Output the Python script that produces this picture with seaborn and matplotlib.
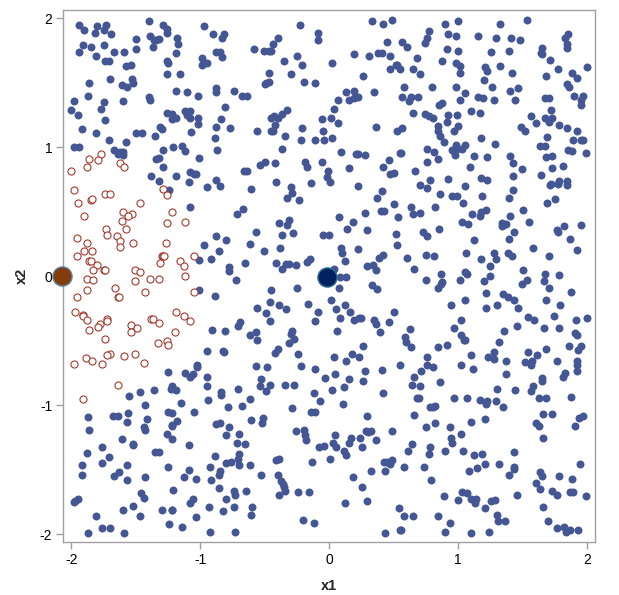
import pandas as pd
import seaborn as sns
import matplotlib
matplotlib.use("Agg")
import matplotlib.pyplot as plt

# (x1, x2), one list per region of the plot
red_points = [
    (-1.77,0.95),(-1.86,0.91),(-1.79,0.90),(-1.88,0.85),(-2.00,0.82),(-1.62,0.88),(-1.59,0.85),(-1.98,0.67),
    (-1.95,0.57),(-1.85,0.59),(-1.84,0.60),(-1.74,0.64),(-1.70,0.64),(-1.29,0.68),(-1.26,0.63),(-1.47,0.57),
    (-1.22,0.50),(-1.60,0.50),(-1.53,0.48),(-1.56,0.47),(-1.61,0.43),(-1.90,0.47),(-1.26,0.41),(-1.12,0.42),
    (-1.73,0.37),(-1.58,0.37),(-1.72,0.32),(-1.65,0.31),(-1.96,0.295),(-1.88,0.26),(-1.62,0.27),(-1.62,0.23),
    (-1.52,0.26),(-1.27,0.26),(-1.90,0.20),(-1.84,0.20),(-1.96,0.16),(-1.30,0.155),(-1.29,0.16),(-1.28,0.155),
    (-1.05,0.16),(-1.86,0.12),(-1.85,0.12),(-1.80,0.09),(-1.31,0.10),(-1.16,0.12),(-1.13,0.08),(-1.83,0.05),
    (-1.75,0.05),(-1.74,0.05),(-1.51,0.05),(-1.47,0.03),(-1.12,0.0),(-1.88,-0.02),(-1.83,-0.03),(-1.51,-0.04),
    (-1.39,-0.02),(-1.32,-0.02),(-1.66,-0.09),(-1.96,-0.16),(-1.88,-0.11),(-1.64,-0.16),(-1.63,-0.16),(-1.43,-0.125),
    (-1.05,-0.12),(-1.97,-0.28),(-1.91,-0.30),(-1.91,-0.31),(-1.88,-0.34),(-1.72,-0.33),(-1.72,-0.35),(-1.38,-0.33),
    (-1.37,-0.33),(-1.32,-0.365),(-1.19,-0.28),(-1.13,-0.31),(-1.08,-0.35),(-1.78,-0.37),(-1.79,-0.39),(-1.54,-0.38),
    (-1.49,-0.40),(-1.54,-0.43),(-1.86,-0.42),(-1.20,-0.43),(-1.74,-0.49),(-1.26,-0.50),(-1.25,-0.53),(-1.33,-0.52),
    (-1.70,-0.60),(-1.72,-0.61),(-1.51,-0.60),(-1.59,-0.62),(-1.89,-0.63),(-1.84,-0.66),(-1.76,-0.68),(-1.98,-0.68),
    (-1.44,-0.675),(-1.64,-0.84),(-1.91,-0.95),
]

blue_far_left = [
    (-1.94,1.95),(-1.90,1.91),(-1.82,1.89),(-1.80,1.94),(-1.75,1.91),(-1.73,1.95),(-1.69,1.88),(-1.40,1.98),
    (-1.29,1.95),(-1.26,1.92),(-1.26,1.89),(-1.39,1.86),(-1.36,1.83),(-1.34,1.83),(-1.32,1.84),(-1.37,1.78),
    (-1.50,1.84),(-1.50,1.76),(-1.18,1.85),(-1.17,1.80),(-1.19,1.73),(-1.91,1.79),(-1.85,1.78),(-1.75,1.79),
    (-1.94,1.74),(-1.81,1.71),(-1.67,1.74),(-1.59,1.74),(-1.74,1.67),(-1.71,1.67),(-1.58,1.63),(-1.54,1.64),
    (-1.26,1.67),(-1.25,1.65),(-1.26,1.57),(-1.16,1.57),(-1.70,1.53),(-1.86,1.50),(-1.53,1.53),(-1.52,1.50),
    (-1.61,1.48),(-1.57,1.47),(-1.19,1.44),(-1.10,1.43),(-1.87,1.40),(-1.98,1.36),(-1.75,1.35),(-1.60,1.36),
    (-1.40,1.39),(-1.39,1.37),(-1.77,1.30),(-2.00,1.29),(-1.95,1.25),(-1.26,1.27),(-1.22,1.26),(-1.19,1.23),
    (-1.22,1.22),(-1.12,1.28),(-1.08,1.28),(-1.10,1.25),(-1.08,1.23),(-1.74,1.21),(-1.92,1.14),(-1.81,1.11),
    (-1.71,1.06),(-1.58,1.04),(-1.50,1.11),(-1.45,1.11),(-1.35,1.09),(-1.31,1.16),(-1.30,1.14),(-1.07,1.12),
    (-1.98,1.00),(-1.94,1.00),(-1.67,0.98),(-1.62,0.96),(-1.60,0.96),(-1.635,0.95),(-1.60,0.94),(-1.29,0.98),
    (-1.21,1.00),(-1.14,1.01),(-1.12,0.97),(-1.34,0.91),(-1.32,0.92),(-1.29,0.845),(-1.38,0.775),(-1.32,0.74),
    (-1.19,0.775),(-1.08,0.81),(-1.05,0.79),(-1.09,0.73),(-1.24,0.67),(-1.08,0.54),
    (-1.25,-0.745),(-1.12,-0.75),(-1.08,-0.78),(-1.06,-0.76),(-1.22,-0.85),(-1.23,-0.87),(-1.19,-0.885),
    (-1.55,-0.93),(-1.47,-0.90),(-1.36,-0.885),(-1.43,-1.00),(-1.15,-0.985),(-1.25,-1.05),(-1.22,-1.06),(-1.05,-1.05),
    (-1.87,-1.09),(-1.68,-1.08),(-1.64,-1.08),(-1.56,-1.06),(-1.41,-1.11),(-1.57,-1.13),(-1.18,-1.12),(-1.22,-1.15),
    (-1.86,-1.195),(-1.44,-1.17),(-1.43,-1.195),(-1.26,-1.22),(-1.22,-1.157),(-1.22,-1.265),(-1.61,-1.265),(-1.52,-1.30),
    (-1.52,-1.31),(-1.76,-1.32),(-1.09,-1.31),(-1.88,-1.37),(-1.71,-1.40),(-1.35,-1.366),(-1.32,-1.366),(-1.92,-1.46),
    (-1.76,-1.45),(-1.57,-1.46),(-1.25,-1.48),(-1.09,-1.50),(-1.92,-1.544),(-1.63,-1.52),(-1.67,-1.55),(-1.57,-1.58),
    (-1.43,-1.56),(-1.13,-1.56),(-1.03,-1.575),(-1.21,-1.66),(-1.46,-1.68),(-1.44,-1.72),(-1.98,-1.75),(-1.97,-1.74),
    (-1.95,-1.73),(-1.52,-1.78),(-1.06,-1.73),(-1.08,-1.76),(-1.60,-1.815),(-1.30,-1.815),(-1.22,-1.815),(-1.22,-1.81),
    (-1.81,-1.86),(-1.47,-1.86),(-1.03,-1.87),(-1.24,-1.92),(-1.14,-1.94),(-1.76,-1.955),(-1.70,-1.955),(-1.87,-1.99),
    (-1.59,-1.99),
]

blue_top_mid = [
    (-0.97,1.94),(-0.90,1.88),(-0.82,1.88),(-0.83,1.85),(-0.395,1.85),(-0.23,1.95),(-0.09,1.89),(-0.09,1.83),
    (0.33,1.98),(0.42,1.954),(0.49,1.99),(0.45,1.82),(-0.44,1.80),(-0.58,1.76),(-0.51,1.75),(-0.465,1.745),
    (-0.45,1.745),(-0.88,1.74),(-0.85,1.74),(-0.83,1.70),(-0.99,1.69),(-0.99,1.64),(-0.95,1.65),(-0.35,1.67),
    (-0.25,1.71),(-0.21,1.64),(0.02,1.65),(0.19,1.72),(0.31,1.71),(0.38,1.73),(0.41,1.73),(0.47,1.706),
    (0.47,1.61),(0.52,1.64),(-0.47,1.58),(-0.295,1.57),(0.26,1.55),(-0.47,1.51),(-0.49,1.50),(-0.50,1.49),
    (-0.20,1.505),(-0.11,1.50),(-0.88,1.46),(-0.88,1.43),(-0.74,1.44),(-0.68,1.40),(-0.64,1.40),(-1.015,1.40),
    (0.19,1.44),(0.13,1.43),(0.35,1.43),(0.07,1.37),(0.155,1.37),(0.195,1.38),(0.225,1.39),(-0.81,1.31),
    (0.04,1.295),(-0.33,1.29),(-0.37,1.26),(-0.395,1.23),(-0.45,1.23),(-0.43,1.24),(-1.015,1.23),(-0.84,1.22),
    (-0.06,1.22),(0.01,1.23),(0.07,1.19),(-1.02,1.18),(-0.88,1.16),(-0.77,1.15),(-0.42,1.17),(-0.21,1.15),
    (0.36,1.156),(-0.56,1.125),(-0.45,1.125),(-0.44,1.125),(-0.05,1.13),(-0.34,1.09),(-0.89,1.07),(-0.22,1.06),
    (-0.11,1.06),(-0.04,1.06),(0.02,1.07),
]

blue_top_right = [
    (0.90,1.96),(1.00,1.98),(1.53,1.99),(1.32,1.954),(0.77,1.90),(0.76,1.85),(0.74,1.81),(0.92,1.88),
    (0.98,1.86),(1.15,1.86),(1.29,1.85),(1.41,1.85),(1.48,1.83),(1.85,1.88),(1.83,1.85),(1.845,1.80),
    (1.845,1.77),(0.566,1.815),(0.60,1.776),(0.91,1.76),(1.00,1.75),(1.25,1.74),(1.395,1.75),(1.65,1.77),
    (1.64,1.73),(1.65,1.72),(0.68,1.69),(0.87,1.67),(1.71,1.675),(0.527,1.64),(0.55,1.605),(0.65,1.61),
    (0.70,1.57),(0.985,1.65),(1.015,1.63),(1.015,1.58),(1.21,1.62),(1.22,1.59),(1.325,1.63),(1.42,1.575),
    (1.775,1.605),(1.88,1.58),(2.00,1.62),(1.68,1.55),(1.92,1.535),(1.20,1.52),(0.58,1.47),(0.80,1.47),
    (0.98,1.466),(1.26,1.466),(1.84,1.49),(1.86,1.466),(1.40,1.44),(1.465,1.46),(1.05,1.42),(0.566,1.39),
    (0.63,1.39),(0.62,1.36),(0.69,1.39),(1.15,1.39),(1.19,1.38),(1.28,1.37),(1.44,1.37),(1.015,1.365),
    (1.67,1.38),(1.70,1.38),(1.90,1.396),(1.97,1.396),(1.95,1.37),(1.95,1.326),(0.85,1.33),(0.87,1.34),
    (0.65,1.27),(1.10,1.28),(1.17,1.27),(0.74,1.256),(0.775,1.24),(0.806,1.23),(0.92,1.25),(0.99,1.25),
    (0.915,1.20),(1.72,1.29),(1.73,1.23),(1.565,1.24),(1.675,1.225),(1.70,1.195),(1.60,1.19),(1.78,1.17),
    (1.845,1.15),(1.92,1.125),(0.845,1.163),(0.845,1.13),(0.86,1.086),(1.00,1.163),(0.97,1.13),(0.56,1.15),
    (0.527,1.125),(1.49,1.156),(1.52,1.125),(1.18,1.07),(1.69,1.08),(1.89,1.06),(1.95,1.06),(1.97,1.06),
]

blue_upper_mid = [
    (-1.01,0.92),(-0.87,0.977),(-0.37,0.985),(0.09,0.96),(0.21,0.95),(0.22,0.95),(0.28,0.94),(-0.496,0.89),
    (-0.535,0.86),(-0.42,0.876),(-0.19,0.89),(-0.17,0.845),(-0.054,0.884),(0.465,0.90),(0.42,0.845),(0.155,0.837),
    (-0.007,0.82),(-0.66,0.814),(-0.635,0.82),(-1.033,0.79),(0.473,0.79),(0.50,0.80),(-0.015,0.77),(0.008,0.73),
    (-0.875,0.745),(-0.945,0.69),(-0.85,0.70),(-0.41,0.73),(-0.14,0.72),(0.22,0.70),(-0.294,0.69),(-0.604,0.675),
    (-0.286,0.644),(0.41,0.66),(-0.325,0.605),(-0.232,0.59),(0.372,0.605),(0.50,0.56),(-0.666,0.52),(-0.713,0.48),
    (0.28,0.49),(0.40,0.504),(0.427,0.504),(0.078,0.457),(-0.31,0.434),(-0.387,0.41),(-0.325,0.395),(0.186,0.42),
    (0.14,0.364),(0.295,0.357),(-0.566,0.341),(-0.876,0.31),(-0.364,0.318),(-0.279,0.333),(-0.046,0.318),(-0.00,0.318),
    (-0.798,0.279),(-0.969,0.24),(-0.612,0.248),(-0.852,0.20),(-0.504,0.20),(-0.38,0.217),(0.093,0.217),(0.225,0.21),
    (0.10,0.178),(-0.914,0.132),(-1.007,0.124),(0.419,0.163),(0.388,0.14),(-0.147,0.132),(-0.17,0.109),(0.124,0.116),
    (-0.651,0.101),(-0.41,0.101),(-0.333,0.093),(-0.31,0.093),(-0.256,0.085),(-0.775,0.07),(-0.775,0.039),(-0.364,0.054),
    (0.295,0.078),(0.34,0.085),(0.365,0.047),(0.039,0.054),
]

blue_upper_right = [
    (0.89,1.04),(0.985,1.016),(1.054,1.016),(0.953,0.977),(0.99,0.985),(1.03,0.99),(0.76,0.985),(0.814,0.96),
    (0.977,0.938),(1.287,1.023),(1.635,1.008),(1.674,1.008),(1.853,0.977),(1.884,0.97),(1.99,0.954),(0.55,0.954),
    (0.559,0.954),(1.124,0.93),(1.225,0.923),(1.403,0.93),(1.682,0.923),(1.729,0.93),(0.845,0.907),(0.76,0.884),
    (1.426,0.876),(1.093,0.845),(1.729,0.837),(1.814,0.853),(1.496,0.83),(0.667,0.814),(1.426,0.775),(1.643,0.783),
    (0.922,0.752),(1.178,0.76),(1.225,0.744),(0.783,0.744),(0.705,0.706),(0.76,0.682),(1.054,0.698),(1.713,0.706),
    (1.72,0.713),(1.775,0.713),(1.783,0.737),(1.845,0.737),(1.845,0.706),(1.426,0.667),(0.86,0.636),(0.953,0.62),
    (0.992,0.62),(1.186,0.62),(1.395,0.605),(1.752,0.597),(1.039,0.566),(1.69,0.566),(0.636,0.535),(0.822,0.535),
    (0.651,0.48),(0.705,0.488),(1.217,0.512),(1.178,0.496),(1.108,0.48),(1.17,0.465),(1.504,0.512),(1.403,0.465),
    (0.535,0.457),(1.03,0.419),(1.077,0.403),(1.55,0.419),(1.341,0.411),(1.341,0.388),(1.372,0.403),(0.853,0.364),
    (0.729,0.341),(0.76,0.31),(1.434,0.341),(1.767,0.357),(1.775,0.341),(1.822,0.388),(1.953,0.395),(1.124,0.279),
    (1.395,0.287),(1.868,0.287),(0.52,0.326),(0.522,0.24),(1.581,0.217),(1.922,0.202),(1.062,0.178),(1.279,0.178),
    (1.388,0.178),(1.419,0.155),(0.605,0.14),(0.752,0.163),(0.814,0.155),(1.178,0.132),(1.295,0.132),(1.705,0.155),
    (1.248,0.078),(0.659,0.054),(1.504,0.047),(1.054,0.031),(1.07,0.015),(0.868,0.015),(1.674,0.015),(1.783,0.008),
    (1.248,-0.0),
]

blue_lower_mid = [
    (-0.72,-0.025),(-1.007,-0.11),(0.086,-0.009),(0.132,-0.009),(-0.449,-0.11),(-0.248,-0.087),(0.075,-0.087),(0.334,-0.071),
    (0.372,-0.102),(-0.883,-0.156),(0.016,-0.187),(-0.457,-0.203),(-0.162,-0.211),(-0.387,-0.226),(-0.558,-0.242),(-0.333,-0.257),
    (0.124,-0.226),(0.055,-0.257),(-0.085,-0.28),(-0.488,-0.288),(0.163,-0.28),(0.504,-0.28),(0.086,-0.327),(0.194,-0.335),
    (0.233,-0.327),(0.246,-0.32),(-0.457,-0.35),(-0.108,-0.35),(0.349,-0.342),(0.365,-0.373),(0.465,-0.358),(-0.69,-0.358),
    (-0.705,-0.389),(-0.907,-0.42),(-0.806,-0.428),(-0.566,-0.435),(-0.612,-0.459),(-0.286,-0.428),(-0.294,-0.451),(0.062,-0.428),
    (0.396,-0.435),(-0.558,-0.497),(-0.271,-0.49),(-0.31,-0.521),(0.264,-0.544),(-0.395,-0.56),(-0.418,-0.598),(-0.945,-0.583),
    (-0.821,-0.583),(-0.814,-0.59),(-0.24,-0.606),(0.179,-0.606),(0.039,-0.629),(0.233,-0.629),(0.132,-0.653),(-1.023,-0.691),
    (-1.023,-0.707),(-0.566,-0.699),(-0.48,-0.707),(-0.217,-0.699),(-0.108,-0.715),(0.279,-0.738),(0.411,-0.73),(0.047,-0.761),
    (-0.945,-0.777),(-0.031,-0.792),(0.155,-0.8),(0.264,-0.808),(-0.527,-0.8),(-0.945,-0.854),(-0.535,-0.854),(-0.457,-0.839),
    (-0.341,-0.839),(-0.271,-0.839),(0.117,-0.862),(-0.705,-0.877),(-0.488,-0.893),(0.024,-0.885),(-0.837,-0.9),(-0.837,-0.924),
    (-0.116,-0.908),(0.419,-0.908),(-0.615,-0.955),(-0.938,-0.963),(-0.069,-0.97),(0.109,-0.994),(-0.783,-1.017),(-0.674,-1.009),
    (-0.286,-1.025),
]

blue_lower_right = [
    (0.752,-0.025),(1.015,-0.025),(1.202,-0.04),(1.535,-0.025),(1.496,-0.063),(1.667,-0.04),(0.868,-0.056),(0.876,-0.048),
    (0.845,-0.087),(1.705,-0.094),(1.217,-0.133),(1.876,-0.125),(1.349,-0.141),(1.388,-0.164),(1.434,-0.187),(1.682,-0.18),
    (1.054,-0.187),(0.946,-0.226),(1.217,-0.242),(1.302,-0.226),(1.465,-0.249),(1.791,-0.226),(1.543,-0.319),(1.589,-0.335),
    (1.744,-0.304),(1.915,-0.342),(2.0,-0.327),(1.023,-0.342),(0.628,-0.412),(0.969,-0.404),(1.457,-0.389),(1.667,-0.397),
    (1.783,-0.404),(1.357,-0.428),(1.907,-0.443),(1.922,-0.459),(1.023,-0.459),(0.589,-0.474),(0.597,-0.513),(1.046,-0.497),
    (1.054,-0.497),(1.318,-0.513),(0.636,-0.552),(0.845,-0.552),(0.915,-0.536),(1.682,-0.56),(1.860,-0.544),(1.953,-0.544),
    (1.93,-0.575),(1.279,-0.59),(1.543,-0.59),(1.101,-0.614),(1.233,-0.629),(1.279,-0.645),(1.612,-0.614),(0.76,-0.629),
    (1.372,-0.66),(1.519,-0.668),(1.573,-0.66),(1.566,-0.684),(1.767,-0.66),(1.922,-0.66),(1.922,-0.691),(1.922,-0.738),
    (0.55,-0.684),(0.76,-0.684),(0.806,-0.707),(1.023,-0.691),(1.116,-0.722),(0.713,-0.738),(1.372,-0.761),(1.829,-0.746),
    (1.814,-0.784),(0.659,-0.784),(1.651,-0.792),(1.651,-0.808),(0.86,-0.823),(0.643,-0.839),(0.705,-0.854),(1.581,-0.854),
    (1.302,-0.877),(1.442,-0.885),(1.566,-0.893),(0.682,-0.947),(0.698,-0.947),(0.969,-0.947),(1.07,-0.947),(1.17,-0.963),
    (1.225,-0.97),(1.217,-0.994),(1.295,-0.97),(1.628,-0.947),(1.682,-0.947),(1.876,-0.939),(1.349,-1.017),(0.783,-1.017),
    (0.806,-1.017),(0.822,-1.009),
]

blue_bottom_mid = [
    (-0.139,-1.056),(-0.108,-1.056),(0.295,-1.087),(-0.511,-1.095),(-0.604,-1.118),(-0.519,-1.134),(-0.876,-1.149),(-0.845,-1.134),
    (-0.775,-1.165),(-0.256,-1.203),(-0.193,-1.188),(-0.186,-1.227),(-0.178,-1.273),(-0.697,-1.219),(-0.798,-1.234),(0.287,-1.196),
    (0.303,-1.211),(0.326,-1.196),(0.489,-1.196),(0.047,-1.234),(0.171,-1.25),(0.241,-1.25),(-0.713,-1.289),(-0.651,-1.304),
    (0.031,-1.289),(0.365,-1.273),(0.155,-1.296),(-0.077,-1.32),(-0.038,-1.312),(0.055,-1.32),(0.256,-1.327),(0.117,-1.358),
    (0.132,-1.389),(-0.697,-1.374),(-0.883,-1.397),(-0.705,-1.413),(0.008,-1.413),(-0.41,-1.428),(-0.387,-1.42),(-0.798,-1.444),
    (-0.759,-1.436),(-0.131,-1.436),(0.427,-1.436),(0.45,-1.436),(0.489,-1.428),(0.473,-1.459),(-0.697,-1.467),(-0.612,-1.467),
    (-0.922,-1.482),(-0.845,-1.506),(0.326,-1.513),(0.434,-1.513),(-0.852,-1.544),(-0.527,-1.544),(-0.395,-1.537),(0.186,-1.56),
    (-0.914,-1.583),(-0.372,-1.591),(-0.356,-1.614),(-0.348,-1.63),(0.256,-1.637),(-0.852,-1.645),(-0.341,-1.661),(-0.736,-1.661),
    (-0.728,-1.692),(-0.643,-1.668),(-0.24,-1.676),(-0.155,-1.676),(-0.387,-1.692),(-0.798,-1.73),(0.295,-1.746),(0.124,-1.754),
    (-0.93,-1.792),(-0.736,-1.792),(-0.597,-1.792),(-0.821,-1.816),(-0.604,-1.854),(-0.201,-1.886),(-0.116,-1.909),(-0.922,-1.986),
    (-0.728,-1.986),(0.434,-1.994),
]

blue_bottom_right = [
    (0.659,-1.072),(1.659,-1.064),(1.729,-1.064),(1.209,-1.103),(1.969,-1.087),(1.938,-1.095),(0.822,-1.134),(1.101,-1.126),
    (1.605,-1.141),(1.628,-1.157),(1.907,-1.157),(0.752,-1.172),(0.938,-1.172),(1.023,-1.219),(0.946,-1.25),(1.659,-1.25),
    (0.953,-1.296),(0.643,-1.304),(0.783,-1.32),(0.612,-1.358),(0.775,-1.374),(0.899,-1.358),(1.039,-1.358),(1.124,-1.389),
    (1.186,-1.374),(1.434,-1.366),(1.209,-1.459),(1.318,-1.459),(1.946,-1.459),(0.581,-1.475),(0.736,-1.482),(1.434,-1.475),
    (1.434,-1.498),(1.085,-1.506),(1.147,-1.49),(1.636,-1.521),(1.651,-1.552),(1.395,-1.544),(1.783,-1.552),(1.884,-1.568),
    (0.791,-1.583),(1.605,-1.599),(1.636,-1.653),(1.729,-1.661),(1.767,-1.692),(1.031,-1.676),(1.07,-1.684),(1.868,-1.676),
    (1.891,-1.676),(1.457,-1.692),(1.992,-1.7),(0.891,-1.707),(1.0,-1.738),(1.101,-1.73),(1.139,-1.73),(1.132,-1.754),
    (1.256,-1.746),(1.287,-1.738),(1.209,-1.8),(1.659,-1.792),(0.543,-1.8),(0.581,-1.862),(0.651,-1.862),(0.845,-1.862),
    (1.302,-1.847),(1.31,-1.901),(1.364,-1.901),(0.938,-1.909),(1.698,-1.901),(1.767,-1.948),(1.822,-1.94),(1.837,-1.979),
    (1.868,-1.971),(1.93,-1.971),(0.55,-1.971),(0.558,-1.971),(0.899,-1.979),(1.101,-1.994),(1.24,-1.979),
]

center_point = [(-0.015, -0.005)]
edge_point = [(-2.07, 0.0)]

ticks = [-2, -1, 0, 1, 2]

blue_points = (blue_far_left + blue_top_mid + blue_top_right + blue_upper_mid + blue_upper_right
               + blue_lower_mid + blue_lower_right + blue_bottom_mid + blue_bottom_right)

blue_df = pd.DataFrame(blue_points, columns=["x1", "x2"])
red_df = pd.DataFrame(red_points, columns=["x1", "x2"])
center_df = pd.DataFrame(center_point, columns=["x1", "x2"])
edge_df = pd.DataFrame(edge_point, columns=["x1", "x2"])

sns.set_style("white")
plt.rcParams["font.family"] = ["Liberation Sans", "DejaVu Sans"]

fig, ax = plt.subplots(figsize=(6.19, 5.95), dpi=100)
fig.subplots_adjust(left=63.3/619, right=595.3/619, top=1-10.3/595, bottom=1-542.3/595)

sns.scatterplot(data=blue_df, x="x1", y="x2", ax=ax, s=33, color="#445694", edgecolor="#445694", linewidth=0)
sns.scatterplot(data=red_df, x="x1", y="x2", ax=ax, s=26, facecolor="white", edgecolor="#A23A2E", linewidth=0.8)
sns.scatterplot(data=center_df, x="x1", y="x2", ax=ax, s=190, color="#00215F", edgecolor="#2E6F8E", linewidth=1, zorder=5)
sns.scatterplot(data=edge_df, x="x1", y="x2", ax=ax, s=190, color="#833C0B", edgecolor="#5F83A8", linewidth=1, zorder=5, clip_on=False)

ax.set_xlim(-2.0625, 2.0625)
ax.set_ylim(-2.0625, 2.0625)
ax.set_xticks(ticks)
ax.set_yticks(ticks)
ax.set_xticklabels([str(t) for t in ticks])
ax.set_yticklabels([str(t) for t in ticks])
ax.tick_params(axis="both", length=5, width=1, color="#A0A0A0", labelsize=10, labelcolor="black", pad=3, bottom=True, left=True)
ax.set_xlabel("x1", fontsize=10.5, labelpad=8, fontweight="bold")
ax.set_ylabel("x2", fontsize=10.5, labelpad=8, fontweight="bold")
for spine in ax.spines.values():
    spine.set_color("#A0A0A0")
    spine.set_linewidth(1)

fig.savefig("out.png", dpi=100)
